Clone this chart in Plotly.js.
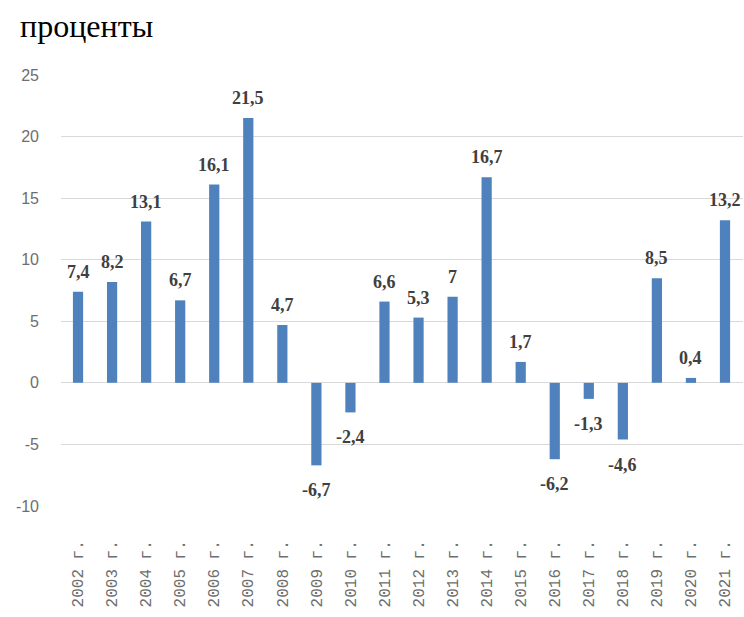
<!DOCTYPE html>
<html>
<head>
<meta charset="utf-8">
<script src="https://cdn.plot.ly/plotly-3.0.1.min.js"></script>
<style>html,body{margin:0;padding:0;background:#fff;}#chart{width:744px;height:617px;}</style>
</head>
<body>
<div id="chart"></div>
<script>
const years = ["2002 г.","2003 г.","2004 г.","2005 г.","2006 г.","2007 г.","2008 г.","2009 г.","2010 г.","2011 г.","2012 г.","2013 г.","2014 г.","2015 г.","2016 г.","2017 г.","2018 г.","2019 г.","2020 г.","2021 г."];
const values = [7.4, 8.2, 13.1, 6.7, 16.1, 21.5, 4.7, -6.7, -2.4, 6.6, 5.3, 7, 16.7, 1.7, -6.2, -1.3, -4.6, 8.5, 0.4, 13.2];
const yTicks = [-10, -5, 0, 5, 10, 15, 20, 25];

const labels = values.map(v => String(v).replace('.', ','));
const labelFont = {family: 'Liberation Serif, Times New Roman, serif', size: 18, color: '#404040', weight: 'bold'};

const annotations = values.map((v, i) => ({
  x: years[i], y: v, xref: 'x', yref: 'y',
  text: '<b>' + labels[i] + '</b>',
  showarrow: false,
  yanchor: v >= 0 ? 'bottom' : 'top',
  yshift: v >= 0 ? 8 : -13,
  font: labelFont
}));

Plotly.newPlot('chart', [{
  type: 'bar',
  x: years,
  y: values,
  cliponaxis: false,
  marker: {color: '#4f81bd'},
  hoverinfo: 'skip'
}], {
  width: 744, height: 617,
  margin: {l: 61, r: 1, t: 75, b: 111},
  paper_bgcolor: '#fff', plot_bgcolor: '#fff',
  bargap: 0.7,
  showlegend: false,
  annotations: annotations,
  title: {text: 'проценты', x: 0.027, xanchor: 'left', y: 0.958, yanchor: 'middle',
          font: {family: 'Liberation Serif, Times New Roman, serif', size: 32, color: '#000'}},
  yaxis: {range: [-10, 25], tickvals: yTicks, ticktext: yTicks.map(String),
          showgrid: true, gridcolor: '#d9d9d9', gridwidth: 1,
          zeroline: true, zerolinecolor: '#d9d9d9', zerolinewidth: 1,
          showline: false, ticks: '', ticklabelstandoff: 21,
          tickfont: {family: 'Liberation Sans, Arial, sans-serif', size: 16, color: '#6e6e6e'}},
  xaxis: {type: 'category', tickangle: -90, showgrid: false, showline: false, ticks: '',
          ticklabelstandoff: 30,
          tickfont: {family: 'Liberation Mono, DejaVu Sans Mono, monospace', size: 16, color: '#6e6e6e'}}
}, {staticPlot: true});
</script>
</body>
</html>
